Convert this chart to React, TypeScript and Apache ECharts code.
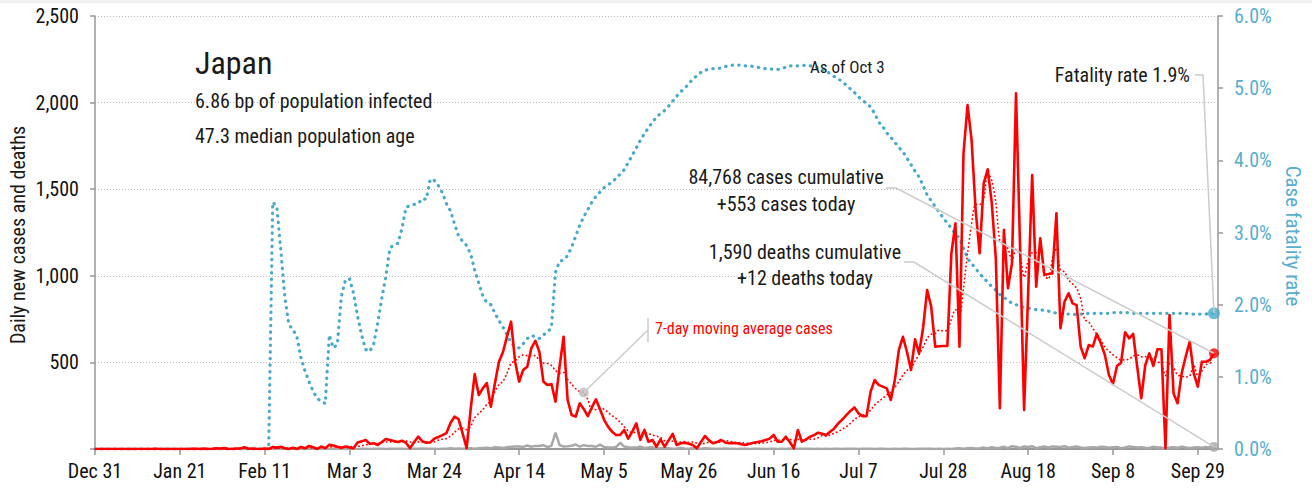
import React, { useEffect, useRef } from "react";
import * as echarts from "echarts";

// Day 0 = Dec 31, 2019; last day = Oct 3, 2020 (day 277)
const MONTHS = ["Jan", "Feb", "Mar", "Apr", "May", "Jun", "Jul", "Aug", "Sep", "Oct", "Nov", "Dec"];
const X_TICK_INTERVAL = 21;
const LEFT_MAX = 2500;
const LEFT_INTERVAL = 500;
const RIGHT_MAX = 6;
const RIGHT_INTERVAL = 1;

// Daily new cases
const cases: number[] = [
  0, 0, 0, 0, 0, 0, 0, 0, 0, 0,
  0, 0, 0, 0, 0, 1, 0, 0, 0, 0,
  0, 0, 0, 0, 1, 1, 0, 2, 0, 1,
  4, 3, 5, 0, 0, 3, 3, 10, 1, 3,
  0, 0, 3, 0, 12, 8, 13, 4, 0, 7,
  0, 12, 4, 18, 10, 0, 14, 5, 24, 20,
  13, 7, 14, 9, 5, 38, 44, 52, 30, 33,
  23, 40, 58, 52, 46, 40, 48, 35, 5, 40,
  71, 45, 36, 38, 60, 69, 80, 92, 150, 187,
  173, 90, 5, 230, 433, 312, 350, 381, 244, 380,
  504, 560, 650, 735, 504, 389, 456, 475, 581, 625,
  562, 389, 370, 375, 273, 475, 648, 283, 196, 187,
  264, 230, 190, 240, 287, 230, 170, 129, 100, 81,
  81, 110, 60, 100, 148, 52, 110, 42, 52, 13,
  56, 13, 50, 87, 23, 33, 36, 30, 23, 4,
  40, 75, 50, 33, 40, 52, 38, 33, 35, 33,
  28, 23, 30, 36, 40, 45, 52, 60, 81, 42,
  42, 71, 40, 4, 110, 42, 55, 71, 80, 94,
  88, 81, 100, 119, 148, 170, 196, 220, 240, 206,
  190, 190, 331, 398, 370, 360, 350, 283, 398, 572,
  648, 560, 456, 633, 552, 700, 918, 822, 591, 593,
  595, 595, 1130, 1303, 591, 1707, 1986, 1784, 1380, 1130,
  1534, 1615, 1420, 1100, 235, 1265, 928, 1072, 2054, 1168,
  225, 900, 1582, 937, 1217, 1005, 1010, 1014, 1361, 697,
  850, 899, 841, 831, 591, 524, 600, 591, 664, 610,
  543, 427, 375, 479, 498, 674, 639, 664, 475, 293,
  485, 552, 479, 576, 576, 4, 774, 321, 264, 437,
  533, 620, 437, 360, 504, 504, 514, 553,
];

// Daily new deaths
const deaths: number[] = [
  0, 0, 0, 0, 0, 0, 0, 0, 0, 0,
  0, 0, 0, 0, 0, 0, 0, 0, 0, 0,
  0, 0, 0, 0, 0, 0, 0, 0, 0, 0,
  0, 0, 0, 0, 0, 0, 0, 0, 0, 0,
  0, 0, 0,
  1, 0, 0, 0, 0, 1, 0, 0, 0, 1, 0, 1, 1, 1, 0, 0, 1,
  2, 1, 0, 0, 1, 0, 1, 1, 0, 2, 1, 1, 0, 1, 2, 1, 2, 0, 1, 1, 2, 3, 2, 1, 2, 0, 1, 1, 4, 2, 3,
  1, 3, 5, 2, 4, 6, 7, 4, 10, 9, 6, 10, 13, 14, 15, 12, 20, 13, 18, 17, 22, 11, 19,
  95,
  23, 14, 16, 19, 26, 14, 22, 18, 17, 13, 25, 12, 9, 8, 12, 36, 14, 10, 9, 8, 14, 6, 8, 11, 3, 5,
  4, 5, 2, 3, 8, 2, 2, 4, 3, 1, 4, 3, 2, 1, 1, 3, 2, 1, 0, 1, 2, 0, 1, 1, 1, 0, 1, 2, 0, 1, 0, 3, 0, 1, 2, 1, 1, 0, 1, 0,
  1, 0, 2, 1, 0, 1, 1, 2, 0, 1, 1, 1, 0, 2, 1, 0, 0, 1, 0, 2, 1, 0, 0, 1, 1, 2, 1, 0, 1, 0,
  2, 0, 3, 4, 1, 5, 6, 3, 5, 8, 4, 10, 6, 7, 13, 5, 16, 13, 6, 15, 12, 16, 5, 10, 14, 9, 15, 13, 11, 16, 8, 12, 14, 9,
  6, 9, 10, 8, 13, 11, 7, 10, 12, 5, 9, 15, 11, 8, 10, 7, 6, 13, 9, 8, 4, 8, 10, 7, 13, 9, 6, 8, 10, 7, 12, 9, 12,
];

// Case fatality rate, %
const cfr: number[] = [
  0, 0, 0, 0, 0, 0, 0, 0, 0, 0,
  0, 0, 0, 0, 0, 0, 0, 0, 0, 0,
  0, 0, 0, 0, 0, 0, 0, 0, 0, 0,
  0, 0, 0, 0, 0, 0, 0, 0, 0, 0,
  0, 0, 0, 0, 3.42, 3.36, 2.75, 2.1, 1.72, 1.66,
  1.55, 1.26, 1.08, 0.93, 0.8, 0.7, 0.66, 0.63, 1.58, 1.4,
  1.45, 2.12, 2.34, 2.36, 2.16, 1.84, 1.58, 1.38, 1.35, 1.46,
  1.75, 2.09, 2.39, 2.78, 2.83, 2.85, 3.06, 3.35, 3.37, 3.39,
  3.4, 3.47, 3.46, 3.74, 3.72, 3.65, 3.55, 3.4, 3.3, 3.12,
  2.95, 2.88, 2.82, 2.7, 2.48, 2.3, 2.12, 2.03, 2.0, 1.88,
  1.78, 1.69, 1.58, 1.47, 1.42, 1.4, 1.46, 1.53, 1.57, 1.56,
  1.53, 1.58, 1.62, 1.68, 2.45, 2.6, 2.62, 2.68, 2.8, 2.95,
  3.1, 3.22, 3.32, 3.42, 3.5, 3.56, 3.62, 3.66, 3.7, 3.75,
  3.81, 3.87, 3.97, 4.07, 4.17, 4.28, 4.37, 4.45, 4.53, 4.6,
  4.65, 4.69, 4.75, 4.82, 4.89, 4.95, 5.0, 5.06, 5.13, 5.17,
  5.22, 5.25, 5.26, 5.27, 5.27, 5.28, 5.3, 5.31, 5.32, 5.32,
  5.32, 5.31, 5.31, 5.3, 5.29, 5.28, 5.27, 5.27, 5.26, 5.26,
  5.27, 5.29, 5.31, 5.31, 5.31, 5.31, 5.32, 5.31, 5.3, 5.28,
  5.26, 5.24, 5.2, 5.16, 5.13, 5.09, 5.04, 4.99, 4.94, 4.88,
  4.83, 4.79, 4.74, 4.65, 4.53, 4.47, 4.38, 4.32, 4.25, 4.18,
  4.12, 4.03, 3.94, 3.85, 3.77, 3.65, 3.52, 3.44, 3.36, 3.28,
  3.2, 3.13, 3.06, 2.98, 2.92, 2.78, 2.64, 2.57, 2.5, 2.43,
  2.37, 2.31, 2.25, 2.2, 2.14, 2.1, 2.06, 2.02, 2.0, 1.98,
  1.96, 1.95, 1.94, 1.93, 1.93, 1.92, 1.91, 1.9, 1.88, 1.87,
  1.87, 1.87, 1.87, 1.86, 1.87, 1.87, 1.88, 1.88, 1.88, 1.88,
  1.88, 1.88, 1.89, 1.89, 1.89, 1.89, 1.89, 1.88, 1.88, 1.88,
  1.88, 1.88, 1.88, 1.88, 1.88, 1.88, 1.88, 1.88, 1.88, 1.88,
  1.88, 1.87, 1.87, 1.87, 1.87, 1.87, 1.88, 1.88,
];

const titleLines = ["Japan", "6.86 bp of population infected", "47.3 median population age"];
const asOfText = "As of Oct 3";
const fatalityText = "Fatality rate 1.9%";
const casesNote = ["84,768 cases cumulative", "+553 cases today"];
const deathsNote = ["1,590 deaths cumulative", "+12 deaths today"];
const maNote = "7-day moving average cases";
const leftAxisTitle = "Daily new cases and deaths";
const rightAxisTitle = "Case fatality rate";
const MA_MARK_DAY = 121;

const FONT = "'Liberation Sans Narrow', 'Roboto Condensed', 'Arial Narrow', 'DejaVu Sans Condensed', sans-serif";
const RED = "#ff0000";
const BLUE = "#4aabc9";
const BLUE_TEXT = "#5aaecb";
const GRAY = "#a8a8a8";
const LEADER = "#cccccc";

function dayLabel(d: number): string {
  const dt = new Date(2019, 11, 31 + d);
  return MONTHS[dt.getMonth()] + " " + dt.getDate();
}

export default function App() {
  const ref = useRef<HTMLDivElement>(null);

  useEffect(() => {
    document.body.style.margin = "0";
    const chart = echarts.init(ref.current!, null, { renderer: "svg" });

    const ma = cases.map((_, i) => {
      const s = Math.max(0, i - 6);
      const win = cases.slice(s, i + 1);
      return win.reduce((a, b) => a + b, 0) / win.length;
    });
    const last = cases.length - 1;

    chart.setOption({
      animation: false,
      textStyle: { fontFamily: FONT },
      grid: { left: 95, right: 94, top: 16, bottom: 42 },
      xAxis: {
        type: "value",
        min: 0,
        max: 278,
        interval: X_TICK_INTERVAL,
        axisLine: { show: true, onZero: false, lineStyle: { color: "#999", width: 2 } },
        axisTick: { show: true, length: 6, lineStyle: { color: "#999", width: 1.5 } },
        axisLabel: {
          formatter: (v: number) => (v % X_TICK_INTERVAL === 0 ? dayLabel(v) : ""),
          color: "#111",
          fontSize: 20,
          fontFamily: FONT,
          margin: 12,
          showMaxLabel: false,
        },
        splitLine: { show: false },
      },
      yAxis: [
        {
          type: "value",
          min: 0,
          max: LEFT_MAX,
          interval: LEFT_INTERVAL,
          position: "left",
          axisLine: { show: true, lineStyle: { color: "#999", width: 1.5 } },
          axisTick: { show: true, length: 5, lineStyle: { color: "#999", width: 1.5 } },
          axisLabel: {
            formatter: (v: number) => (v === 0 ? "" : v.toLocaleString("en-US")),
            color: "#111",
            fontSize: 20,
            fontFamily: FONT,
            margin: 16,
          },
          splitLine: { show: true, lineStyle: { color: "#bbb", type: [1, 2], width: 1 } },
        },
        {
          type: "value",
          min: 0,
          max: RIGHT_MAX,
          interval: RIGHT_INTERVAL,
          position: "right",
          axisLine: { show: true, lineStyle: { color: "#999", width: 1.5 } },
          axisTick: { show: true, length: 5, lineStyle: { color: "#999", width: 1.5 } },
          axisLabel: {
            formatter: (v: number) => v.toFixed(1) + "%",
            color: BLUE_TEXT,
            fontSize: 20,
            fontFamily: FONT,
            margin: 16,
          },
          splitLine: { show: false },
        },
      ],
      series: [
        {
          type: "line",
          yAxisIndex: 1,
          data: cfr.map((v, i) => [i, v]),
          showSymbol: false,
          symbol: "none",
          lineStyle: { color: BLUE, width: 3.2, type: [0.4, 6.2], cap: "round" },
          z: 1,
        },
        {
          type: "line",
          data: deaths.map((v, i) => [i, v]),
          symbol: "none",
          lineStyle: { color: GRAY, width: 2.5 },
          z: 2,
        },
        {
          type: "line",
          data: ma.map((v, i) => [i, v]),
          symbol: "none",
          smooth: 0.3,
          lineStyle: { color: RED, width: 1.7, type: [0.3, 3.7], cap: "round" },
          z: 3,
        },
        {
          type: "line",
          data: cases.map((v, i) => [i, v]),
          symbol: "none",
          lineStyle: { color: RED, width: 2.6, join: "round" },
          z: 4,
        },
        {
          type: "scatter",
          data: [[last, cases[last]]],
          symbolSize: 10,
          itemStyle: { color: RED },
          z: 6,
        },
        {
          type: "scatter",
          data: [[last, deaths[last]]],
          symbolSize: 10,
          itemStyle: { color: GRAY },
          z: 6,
        },
        {
          type: "scatter",
          yAxisIndex: 1,
          data: [[last, cfr[last]]],
          symbolSize: 12,
          itemStyle: { color: BLUE },
          z: 6,
        },
        {
          type: "scatter",
          data: [[MA_MARK_DAY, ma[MA_MARK_DAY]]],
          symbolSize: 10,
          itemStyle: { color: "#bdbdbd" },
          z: 6,
        },
      ],
    });

    const pCases = chart.convertToPixel({ xAxisIndex: 0, yAxisIndex: 0 }, [last, cases[last]]) as number[];
    const pDeaths = chart.convertToPixel({ xAxisIndex: 0, yAxisIndex: 0 }, [last, deaths[last]]) as number[];
    const pCfr = chart.convertToPixel({ xAxisIndex: 0, yAxisIndex: 1 }, [last, cfr[last]]) as number[];
    const pMa = chart.convertToPixel({ xAxisIndex: 0, yAxisIndex: 0 }, [MA_MARK_DAY, ma[MA_MARK_DAY]]) as number[];

    const txt = (text: string, x: number, y: number, size: number, align: string, color = "#1a1a1a", rotation = 0) => ({
      type: "text",
      x,
      y,
      rotation,
      z: 100,
      style: { text, fontSize: size, fontFamily: FONT, fill: color, align, verticalAlign: "middle" },
    });
    const leader = (pts: number[][]) => ({
      type: "polyline",
      z: 90,
      shape: { points: pts },
      style: { stroke: LEADER, lineWidth: 1.5, fill: "none" },
    });

    chart.setOption({
      graphic: [
        { type: "rect", shape: { x: 0, y: 0, width: 1312, height: 3 }, style: { fill: "#f0f0f0" }, z: 0 },
        txt(titleLines[0], 195, 63, 32, "left"),
        txt(titleLines[1], 195, 101, 20, "left"),
        txt(titleLines[2], 195, 136, 20, "left"),
        txt(asOfText, 810, 67, 17, "left"),
        txt(fatalityText, 1190, 75, 20, "right"),
        txt(casesNote[0], 786, 177, 20, "center"),
        txt(casesNote[1], 786, 204, 20, "center"),
        txt(deathsNote[0], 805, 252, 20, "center"),
        txt(deathsNote[1], 805, 278, 20, "center"),
        txt(maNote, 655, 328, 16, "left", RED),
        leader([[1195, 75], [1203, 75], [pCfr[0], pCfr[1]]]),
        leader([[886, 188], [896, 188], [pCases[0], pCases[1]]]),
        leader([[904, 262], [914, 262], [pDeaths[0], pDeaths[1]]]),
        leader([[648, 330], [pMa[0], pMa[1]]]),
        { type: "line", z: 90, shape: { x1: 648, y1: 318, x2: 648, y2: 342 }, style: { stroke: LEADER, lineWidth: 1.5 } },
        txt(leftAxisTitle, 18, 235, 20, "center", "#1a1a1a", Math.PI / 2),
        txt(rightAxisTitle, 1293, 236, 21, "center", BLUE_TEXT, -Math.PI / 2),
      ],
    });

    return () => chart.dispose();
  }, []);

  return <div ref={ref} style={{ width: 1312, height: 491 }} />;
}
